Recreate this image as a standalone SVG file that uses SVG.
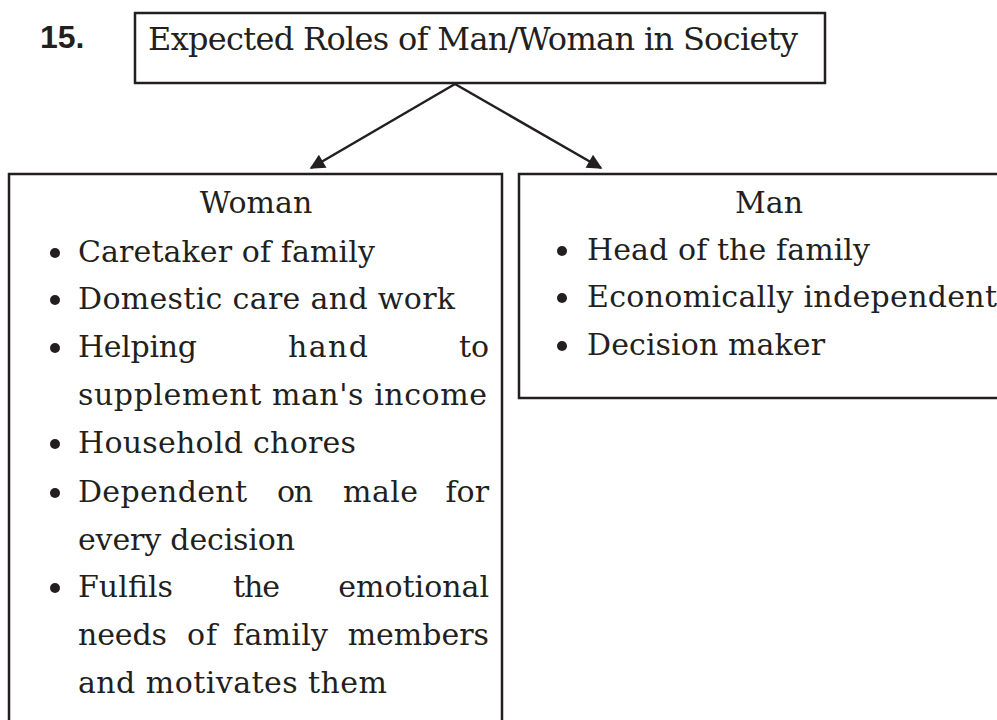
<svg xmlns="http://www.w3.org/2000/svg" width="997" height="720" viewBox="0 0 997 720">
<defs>
<style>
.box{fill:#fff;stroke:#231f20;stroke-width:2.5}
.t{font-family:"DejaVu Serif","Liberation Serif",serif;font-size:30px;fill:#231f20}
.h{font-family:"DejaVu Serif","Liberation Serif",serif;font-size:32px;fill:#231f20}
.num{font-family:"Liberation Sans",Arial,sans-serif;font-size:32px;font-weight:bold;fill:#231f20}
.b{fill:#231f20}
.conn{stroke:#231f20;stroke-width:2.5;fill:none}
</style>
<marker id="ah" viewBox="0 0 10 10" refX="9" refY="5" markerWidth="7.5" markerHeight="6" markerUnits="strokeWidth" orient="auto">
<path d="M0,0 L10,5 L0,10 z" fill="#231f20"/>
</marker>
</defs>
<rect width="997" height="720" fill="#fff"/>
<text class="num" x="40" y="48">15.</text>
<g id="title">
<rect class="box" x="135" y="13" width="690" height="70"/>
<text class="h" x="148" y="50" textLength="650">Expected Roles of Man/Woman in Society</text>
</g>
<g id="connectors">
<line class="conn" x1="455" y1="84" x2="311" y2="168" marker-end="url(#ah)"/>
<line class="conn" x1="455" y1="84" x2="601" y2="168" marker-end="url(#ah)"/>
</g>
<g id="woman">
<rect class="box" x="9" y="174" width="493" height="560"/>
<text class="t" x="256" y="213" text-anchor="middle">Woman</text>
<circle class="b" cx="55" cy="253" r="5"/>
<text class="t" x="78" y="262" textLength="297">Caretaker of family</text>
<circle class="b" cx="55" cy="300" r="5"/>
<text class="t" x="78" y="309" textLength="377">Domestic care and work</text>
<circle class="b" cx="55" cy="348" r="5"/>
<text class="t" x="78" y="357" textLength="119">Helping</text>
<text class="t" x="288" y="357" textLength="80">hand</text>
<text class="t" x="489" y="357" text-anchor="end">to</text>
<text class="t" x="78" y="405" textLength="409">supplement man's income</text>
<circle class="b" cx="55" cy="444" r="5"/>
<text class="t" x="78" y="453" textLength="278">Household chores</text>
<circle class="b" cx="55" cy="493" r="5"/>
<text class="t" x="78" y="502" textLength="169">Dependent</text>
<text class="t" x="277" y="502" textLength="36">on</text>
<text class="t" x="343" y="502" textLength="75">male</text>
<text class="t" x="489" y="502" text-anchor="end">for</text>
<text class="t" x="78" y="550" textLength="217">every decision</text>
<circle class="b" cx="55" cy="588" r="5"/>
<text class="t" x="78" y="597" textLength="95">Fulfils</text>
<text class="t" x="233" y="597" textLength="47">the</text>
<text class="t" x="489" y="597" text-anchor="end">emotional</text>
<text class="t" x="78" y="645" textLength="89">needs</text>
<text class="t" x="187" y="645" textLength="30">of</text>
<text class="t" x="233" y="645" textLength="95">family</text>
<text class="t" x="489" y="645" text-anchor="end">members</text>
<text class="t" x="78" y="693" textLength="309">and motivates them</text>
</g>
<g id="man">
<rect class="box" x="519" y="174" width="490" height="224"/>
<text class="t" x="769" y="213" text-anchor="middle">Man</text>
<circle class="b" cx="562" cy="251" r="5"/>
<text class="t" x="587" y="260" textLength="283">Head of the family</text>
<circle class="b" cx="562" cy="298" r="5"/>
<text class="t" x="587" y="307" textLength="410">Economically independent</text>
<circle class="b" cx="562" cy="346" r="5"/>
<text class="t" x="587" y="355" textLength="238">Decision maker</text>
</g>
</svg>
